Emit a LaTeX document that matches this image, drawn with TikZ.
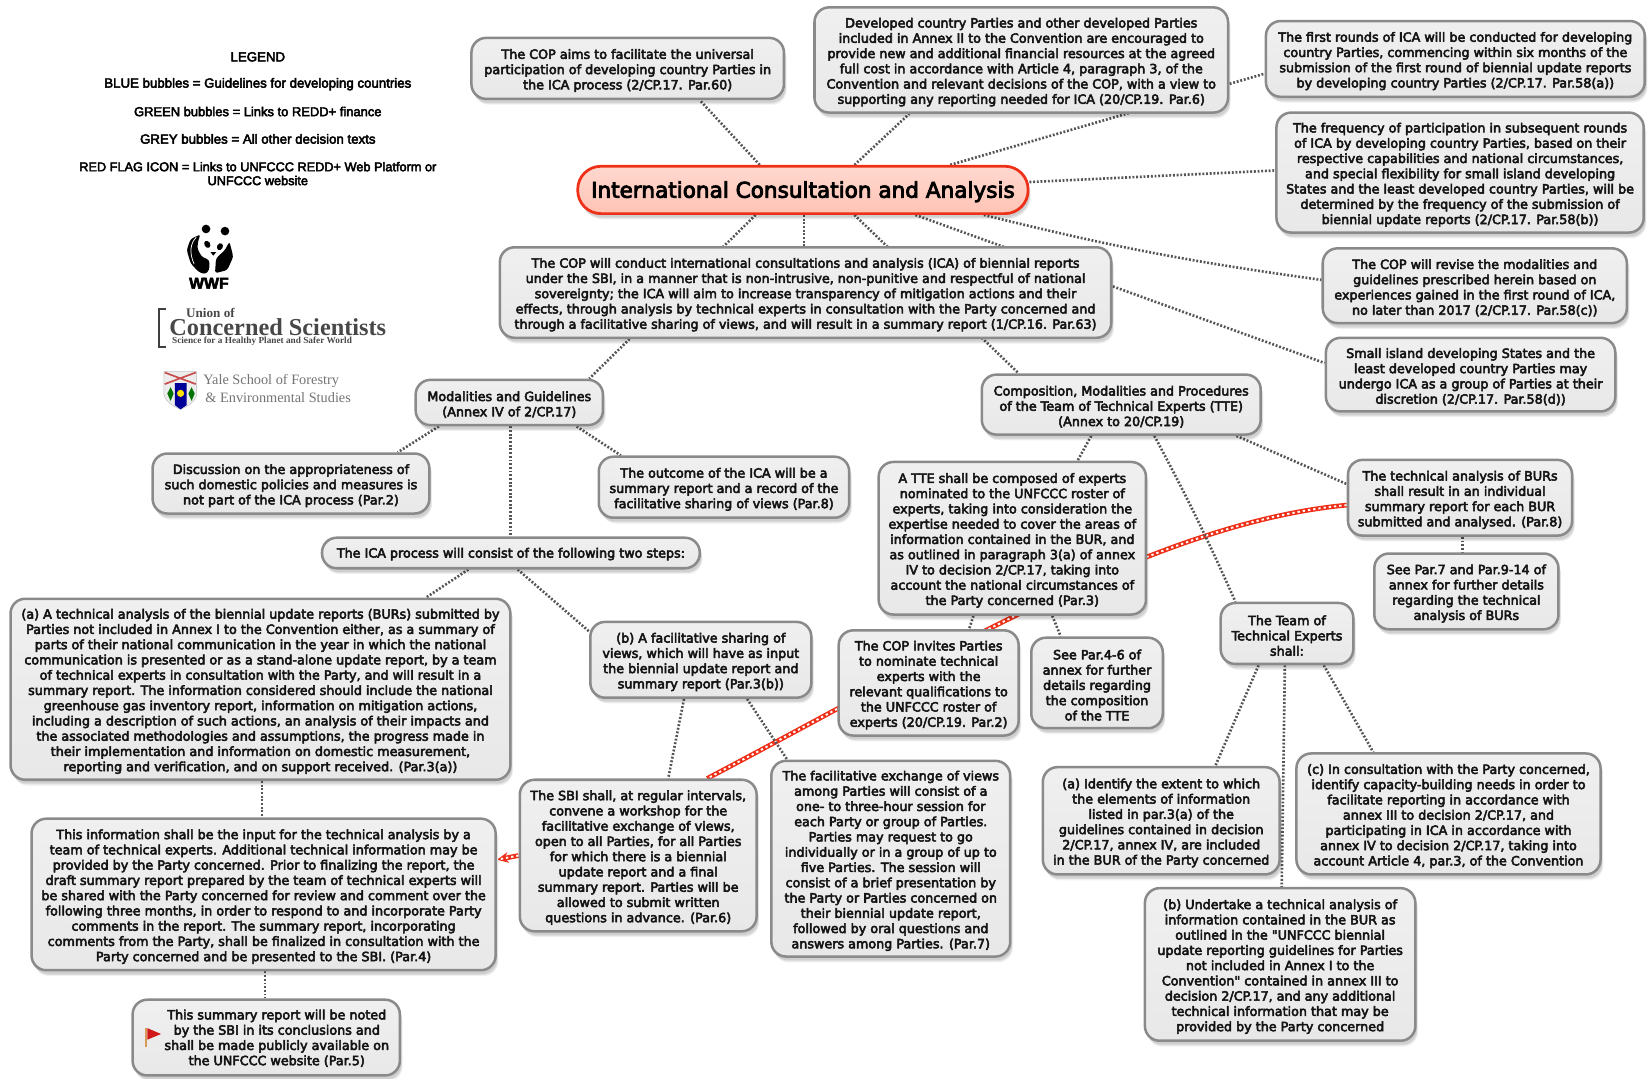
\documentclass[tikz,border=0pt]{standalone}
\usepackage{fontspec}
\usetikzlibrary{shadows,backgrounds,arrows.meta}
\setmainfont{DejaVu Sans}
\newfontfamily\boxfont{DejaVu Sans}[FakeBold=4]
\newfontfamily\legfont{Liberation Sans}[FakeBold=3.5]
\newfontfamily\logofont{Liberation Serif}
\definecolor{edgegrey}{HTML}{8A8A8A}
\definecolor{connd}{HTML}{555555}
\definecolor{rootred}{HTML}{EE3018}
\definecolor{roottop}{HTML}{FFD8CF}
\definecolor{rootbot}{HTML}{FFC4B5}
\newcommand{\tl}{\rule{0pt}{13.3pt}}
\tikzset{
  softshadow/.style={
    drop shadow={shadow xshift=1.5pt,shadow yshift=-3.5pt,fill=black,opacity=.07},
    drop shadow={shadow xshift=2pt,shadow yshift=-4.5pt,fill=black,opacity=.07},
    drop shadow={shadow xshift=2.5pt,shadow yshift=-5.5pt,fill=black,opacity=.06}},
  bubble/.style={draw=edgegrey,line width=2.4pt,rounded corners=14pt,softshadow,
    top color=white!94!black,bottom color=white!91!black,inner sep=0pt,align=center,
    font=\boxfont\fontsize{12.1}{14.5}\selectfont,text=black!92},
  rootbubble/.style={draw=rootred,line width=2.6pt,rounded corners=22pt,softshadow,
    top color=roottop,bottom color=rootbot,inner sep=0pt,
    font=\boxfont\fontsize{20.5}{23}\selectfont,text=black,
    execute at begin node={\rule{0pt}{19pt}}},
  conn/.style={draw=connd,line width=2.5pt,dash pattern=on 1.8pt off 1.7pt},
  redlink/.style={draw=rootred,line width=4.5pt,
    postaction={draw=white,line width=1.8pt,dash pattern=on 2.2pt off 2.8pt,arrows=-}},
  legendtext/.style={font=\legfont\fontsize{12.6}{13.2}\selectfont,align=center,inner sep=0pt},
}
\begin{document}
\begin{tikzpicture}[x=1pt,y=-1pt]
\useasboundingbox (0,0) rectangle (1568,1025);
% legend
\node[legendtext] (lg0) at (245,54) {LEGEND};
\node[legendtext] (lg1) at (245,80) {BLUE bubbles = Guidelines for developing countries};
\node[legendtext,font=\legfont\fontsize{12.3}{13.2}\selectfont] (lg2) at (245,106) {GREEN bubbles = Links to REDD+ finance};
\node[legendtext] (lg3) at (245,132) {GREY bubbles = All other decision texts};
\node[legendtext,font=\legfont\fontsize{12.1}{13.2}\selectfont] (lg4) at (245,165) {RED FLAG ICON = Links to UNFCCC REDD+ Web Platform or\\UNFCCC website};
% panda
\fill[black] (195.8,217.6) circle (4.1);
\fill[black] (213.8,219.6) circle (4.1);
\fill[black,rounded corners=2.5pt] (190.7,222.7) -- (181.2,227.1) -- (177.4,237.6) -- (181.2,250.2) -- (188.5,258.2) -- (194.8,260.7) -- (198.9,256.6) -- (198.9,247.1) -- (191.6,243.9) -- (187.5,236) -- (188.5,228) -- cycle;
\draw[white,line width=.7pt] (186.5,225.5) .. controls (181,231) and (179.5,240) .. (184.5,251);
\fill[black,rounded corners=2.5pt] (218,229.6) -- (221.7,243.9) -- (216,256.6) -- (204.3,259.7) -- (205.3,245.5) -- (213.8,237.6) -- cycle;
\fill[black,rotate around={30:(197,232.2)}] (197,232.2) ellipse (2.7 and 3.6);
\fill[black,rotate around={-30:(209,234.4)}] (209,234.4) ellipse (2.7 and 3.4);
\fill[black] (200,239.5) -- (205.5,239.5) -- (202.7,243) -- cycle;
\node[inner sep=0pt,font=\legfont\bfseries\fontsize{15}{16}\selectfont] (wwf) at (198.5,269.2) {WWF};
% UCS logo
\draw[line width=2.2pt,draw=black!75] (157.5,293.5) -- (151,293.5) -- (151,329.5) -- (157.5,329.5);
\node[inner sep=0pt,text=black!72,font=\logofont\bfseries\fontsize{12.5}{14}\selectfont] (ucs1) at (200,297.5) {Union of};
\node[inner sep=0pt,text=black!72,font=\logofont\bfseries\fontsize{23.1}{26}\selectfont] (ucs2) at (264,311) {Concerned Scientists};
\node[inner sep=0pt,text=black!72,font=\logofont\bfseries\fontsize{8.8}{10}\selectfont] (ucs3) at (249,324.5) {Science for a Healthy Planet and Safer World};
% Yale logo
\fill[white!93!black,draw=black!25,line width=.5pt] (155.8,353.2) -- (186.9,353.2) -- (186.9,375) .. controls (185,383) and (178,386) .. (171.6,389) .. controls (165,386) and (158,383) .. (155.8,375) -- cycle;
\draw[red!70!black!70,line width=1.6pt] (156.5,354) -- (186,365) (186,354) -- (156.5,365);
\fill[blue!60!black] (166.3,364) -- (177.3,364) -- (177.3,385) -- (171.6,389) -- (166.3,385) -- cycle;
\fill[yellow!85!orange] (171.6,373.8) circle (3.4);
\fill[green!45!black] (162.1,368) -- (165,374) -- (162.1,381) -- (159,374) -- cycle;
\fill[green!45!black] (182.1,368) -- (185,374) -- (182.1,381) -- (179,374) -- cycle;
\node[inner sep=0pt,text=black!55,font=\logofont\fontsize{13.6}{15}\selectfont,anchor=west] (yale1) at (193,362) {Yale School of Forestry};
\node[inner sep=0pt,text=black!55,font=\logofont\fontsize{13.6}{15}\selectfont,anchor=west] (yale2) at (195,378) {\& Environmental Studies};
% bubbles
\node[rootbubble,minimum width=428pt,minimum height=45pt] (root) at (763,180.5) {International Consultation and Analysis};
\node[bubble,minimum width=297pt,minimum height=58pt] (cop60) at (596.5,65) {\tl The COP aims to facilitate the universal\\participation of developing country Parties in\\the ICA process (2/CP.17. Par.60)};
\node[bubble,minimum width=393pt,minimum height=100pt] (annexII) at (970.5,57) {\tl Developed country Parties and other developed Parties\\included in Annex II to the Convention are encouraged to\\provide new and additional financial resources at the agreed\\full cost in accordance with Article 4, paragraph 3, of the\\Convention and relevant decisions of the COP, with a view to\\supporting any reporting needed for ICA (20/CP.19. Par.6)};
\node[bubble,minimum width=360pt,minimum height=72pt] (first) at (1383,56) {\tl The first rounds of ICA will be conducted for developing\\country Parties, commencing within six months of the\\submission of the first round of biennial update reports\\by developing country Parties (2/CP.17. Par.58(a))};
\node[bubble,minimum width=349pt,minimum height=114pt] (freq) at (1387.5,164) {\tl The frequency of participation in subsequent rounds\\of ICA by developing country Parties, based on their\\respective capabilities and national circumstances,\\and special flexibility for small island developing\\States and the least developed country Parties, will be\\determined by the frequency of the submission of\\biennial update reports (2/CP.17. Par.58(b))};
\node[bubble,minimum width=289pt,minimum height=71pt] (revise) at (1401.5,271.5) {\tl The COP will revise the modalities and\\guidelines prescribed herein based on\\experiences gained in the first round of ICA,\\no later than 2017 (2/CP.17. Par.58(c))};
\node[bubble,minimum width=275pt,minimum height=70pt] (sids) at (1397.5,356) {\tl Small island developing States and the\\least developed country Parties may\\undergo ICA as a group of Parties at their\\discretion (2/CP.17. Par.58(d))};
\node[bubble,minimum width=581pt,minimum height=86pt] (main) at (765.5,278) {\tl The COP will conduct international consultations and analysis (ICA) of biennial reports\\under the SBI, in a manner that is non-intrusive, non-punitive and respectful of national\\sovereignty; the ICA will aim to increase transparency of mitigation actions and their\\effects, through analysis by technical experts in consultation with the Party concerned and\\through a facilitative sharing of views, and will result in a summary report (1/CP.16. Par.63)};
\node[bubble,minimum width=178pt,minimum height=43pt] (modal) at (484,382.5) {\tl Modalities and Guidelines\\(Annex IV of 2/CP.17)};
\node[bubble,minimum width=265pt,minimum height=57pt] (tte) at (1065.5,384.5) {\tl Composition, Modalities and Procedures\\of the Team of Technical Experts (TTE)\\(Annex to 20/CP.19)};
\node[bubble,minimum width=263pt,minimum height=57pt] (disc) at (276.5,459.5) {\tl Discussion on the appropriateness of\\such domestic policies and measures is\\not part of the ICA process (Par.2)};
\node[bubble,minimum width=238pt,minimum height=58pt] (outcome) at (688,463) {\tl The outcome of the ICA will be a\\summary report and a record of the\\facilitative sharing of views (Par.8)};
\node[bubble,minimum width=359pt,minimum height=29pt] (steps) at (485.5,525.5) {\rule{0pt}{11.3pt}The ICA process will consist of the following two steps:};
\node[bubble,minimum width=475pt,minimum height=172pt] (atech) at (247.5,655) {\tl (a) A technical analysis of the biennial update reports (BURs) submitted by\\Parties not included in Annex I to the Convention either, as a summary of\\parts of their national communication in the year in which the national\\communication is presented or as a stand-alone update report, by a team\\of technical experts in consultation with the Party, and will result in a\\summary report. The information considered should include the national\\greenhouse gas inventory report, information on mitigation actions,\\including a description of such actions, an analysis of their impacts and\\the associated methodologies and assumptions, the progress made in\\their implementation and information on domestic measurement,\\reporting and verification, and on support received. (Par.3(a))};
\node[bubble,minimum width=210pt,minimum height=72pt] (bstep) at (666,627) {\tl (b) A facilitative sharing of\\views, which will have as input\\the biennial update report and\\summary report (Par.3(b))};
\node[bubble,minimum width=254pt,minimum height=145pt] (atte) at (962,511.5) {\tl A TTE shall be composed of experts\\nominated to the UNFCCC roster of\\experts, taking into consideration the\\expertise needed to cover the areas of\\information contained in the BUR, and\\as outlined in paragraph 3(a) of annex\\IV to decision 2/CP.17, taking into\\account the national circumstances of\\the Party concerned (Par.3)};
\node[bubble,minimum width=213pt,minimum height=72pt] (ta) at (1387.5,473) {\tl The technical analysis of BURs\\shall result in an individual\\summary report for each BUR\\submitted and analysed. (Par.8)};
\node[bubble,minimum width=175pt,minimum height=72pt] (see7) at (1393.5,562) {\tl See Par.7 and Par.9-14 of\\annex for further details\\regarding the technical\\analysis of BURs};
\node[bubble,minimum width=171pt,minimum height=100pt] (invites) at (882.5,649) {\tl The COP invites Parties\\to nominate technical\\experts with the\\relevant qualifications to\\the UNFCCC roster of\\experts (20/CP.19. Par.2)};
\node[bubble,minimum width=125pt,minimum height=86pt] (see4) at (1042.5,649) {\tl See Par.4-6 of\\annex for further\\details regarding\\the composition\\of the TTE};
\node[bubble,minimum width=126pt,minimum height=58pt] (team) at (1223,602) {\tl The Team of\\Technical Experts\\shall:};
\node[bubble,minimum width=225pt,minimum height=144pt] (sbi) at (606.5,813) {\tl The SBI shall, at regular intervals,\\convene a workshop for the\\facilitative exchange of views,\\open to all Parties, for all Parties\\for which there is a biennial\\update report and a final\\summary report. Parties will be\\allowed to submit written\\questions in advance. (Par.6)};
\node[bubble,minimum width=227pt,minimum height=186pt] (facex) at (846.5,816) {\tl The facilitative exchange of views\\among Parties will consist of a\\one- to three-hour session for\\each Party or group of Parties.\\Parties may request to go\\individually or in a group of up to\\five Parties. The session will\\consist of a brief presentation by\\the Party or Parties concerned on\\their biennial update report,\\followed by oral questions and\\answers among Parties. (Par.7)};
\node[bubble,minimum width=441pt,minimum height=144pt] (thisinfo) at (250.5,850) {\tl This information shall be the input for the technical analysis by a\\team of technical experts. Additional technical information may be\\provided by the Party concerned. Prior to finalizing the report, the\\draft summary report prepared by the team of technical experts will\\be shared with the Party concerned for review and comment over the\\following three months, in order to respond to and incorporate Party\\comments in the report. The summary report, incorporating\\comments from the Party, shall be finalized in consultation with the\\Party concerned and be presented to the SBI. (Par.4)};
\node[bubble,minimum width=254pt,minimum height=72pt,align=none] (summ) at (253,986) {\hspace*{20pt}\begin{tabular}{@{}c@{}}\tl This summary report will be noted\\by the SBI in its conclusions and\\shall be made publicly available on\\the UNFCCC website (Par.5)\end{tabular}};
\node[bubble,minimum width=225pt,minimum height=102pt] (aid) at (1103.5,780) {\tl (a) Identify the extent to which\\the elements of information\\listed in par.3(a) of the\\guidelines contained in decision\\2/CP.17, annex IV, are included\\in the BUR of the Party concerned};
\node[bubble,minimum width=289pt,minimum height=115pt] (cbox) at (1376.5,773.5) {\tl (c) In consultation with the Party concerned,\\identify capacity-building needs in order to\\facilitate reporting in accordance with\\annex III to decision 2/CP.17, and\\participating in ICA in accordance with\\annex IV to decision 2/CP.17, taking into\\account Article 4, par.3, of the Convention};
\node[bubble,minimum width=257pt,minimum height=145pt] (bund) at (1216.5,916.5) {\tl (b) Undertake a technical analysis of\\information contained in the BUR as\\outlined in the "UNFCCC biennial\\update reporting guidelines for Parties\\not included in Annex I to the\\Convention" contained in annex III to\\decision 2/CP.17, and any additional\\technical information that may be\\provided by the Party concerned};
% flag
\fill[brown!70!orange!80] (138,977) rectangle (140,995);
\fill[red!80!black!90] (140,977) -- (153,982.6) -- (140,988) -- cycle;
% connectors
\begin{pgfonlayer}{background}
\draw[redlink] ([yshift=-7pt]ta.west) .. controls +(-181,17) and +(228,-120) .. ([xshift=65.5pt]sbi.north);
\draw[redlink,-{Stealth[open,length=11pt,width=10pt,fill=white]}] (sbi.west) -- ([yshift=33pt]thisinfo.east);
\draw[conn] ([xshift=-41pt]root.north) -- ([xshift=68.5pt]cop60.south);
\draw[conn] ([xshift=49pt]root.north) -- ([xshift=-106.5pt]annexII.south);
\draw[conn] ([xshift=140pt]root.north) -- ([yshift=-14pt]first.west);
\draw[conn] ([yshift=7.5pt]root.east) -- ([yshift=2pt]freq.west);
\draw[conn] ([xshift=172pt]root.south) to[bend right=3] ([yshift=5.5pt]revise.west);
\draw[conn] ([xshift=107pt]root.south) -- ([yshift=11pt]sids.west);
\draw[conn] ([xshift=1pt]root.south) -- ([xshift=-1.5pt]main.north);
\draw[conn] ([xshift=-45pt]root.south) -- ([xshift=76pt]modal.north);
\draw[conn] ([xshift=49pt]root.south) -- ([xshift=-97.5pt]tte.north);
\draw[conn] ([xshift=-67pt]modal.south) -- ([xshift=101.5pt]disc.north);
\draw[conn] ([xshift=1pt]modal.south) -- ([xshift=-.5pt]steps.north);
\draw[conn] ([xshift=64pt]modal.south) -- ([xshift=-98pt]outcome.north);
\draw[conn] ([xshift=-40.5pt]steps.south) -- ([xshift=157.5pt]atech.north);
\draw[conn] ([xshift=6.5pt]steps.south) -- ([yshift=27pt]bstep.west);
\draw[conn] ([xshift=1.5pt]atech.south) -- ([xshift=-1.5pt]thisinfo.north);
\draw[conn] ([xshift=1.5pt]thisinfo.south) -- ([xshift=-1pt]summ.north);
\draw[conn] ([xshift=-16pt]bstep.south) -- ([xshift=28.5pt]sbi.north);
\draw[conn] ([xshift=44pt]bstep.south) -- ([xshift=-98.5pt]facex.north);
\draw[conn] ([xshift=-28.5pt]tte.south) -- ([xshift=62pt]atte.north);
\draw[conn] ([xshift=31.5pt]tte.south) to[bend left=2] ([xshift=-49pt]team.north);
\draw[conn] ([xshift=109.5pt]tte.south) -- ([yshift=13pt]ta.west);
\draw[conn] ([xshift=2.5pt]ta.south) -- ([xshift=-3.5pt]see7.north);
\draw[conn] ([xshift=-37pt]atte.south) -- ([xshift=38.5pt]invites.north);
\draw[conn] ([xshift=38pt]atte.south) -- ([xshift=-34.5pt]see4.north);
\draw[conn] ([xshift=-27pt]team.south) -- ([xshift=51.5pt]aid.north);
\draw[conn] ([xshift=-2pt]team.south) -- ([xshift=1.5pt]bund.north);
\draw[conn] ([xshift=35pt]team.south) -- ([xshift=-71.5pt]cbox.north);
\end{pgfonlayer}
\end{tikzpicture}
\end{document}
